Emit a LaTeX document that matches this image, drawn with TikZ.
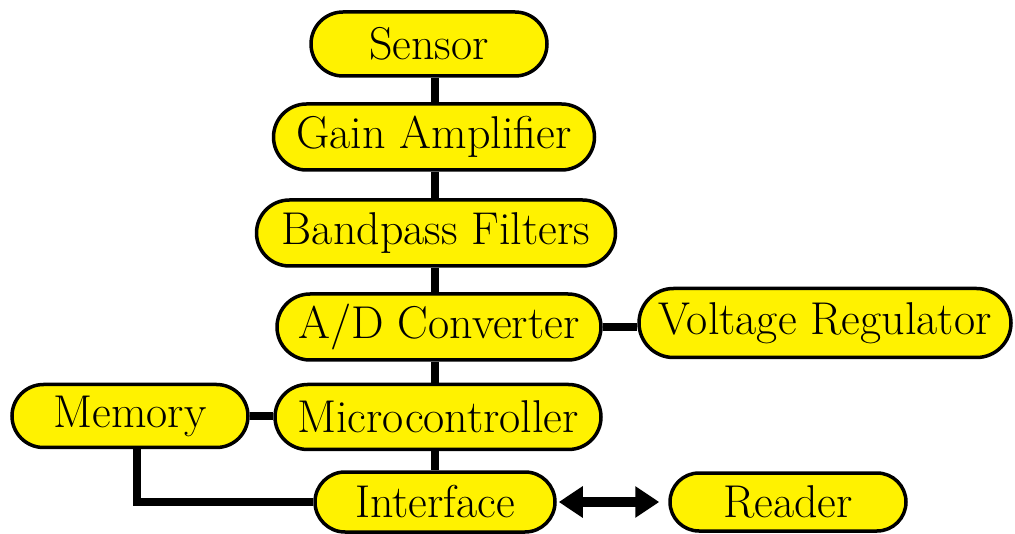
\documentclass[tikz,border=0pt]{standalone}
\usepackage{fontspec}
\usepackage{tikz}
\usetikzlibrary{arrows.meta,positioning}
\tikzset{font=\fontsize{46}{52}\selectfont}
\tikzset{every node/.append style={transform shape=false}}
\tikzset{unit/.style 2 args={draw, fill=yellow, line width=3.5pt, inner sep=0pt,
    minimum width=#1pt, minimum height=#2pt, rounded corners=#2pt/2}}
\tikzset{wire/.style={line width=8pt}}

\begin{document}
\begin{tikzpicture}[x=1pt,y=-1pt]
  \useasboundingbox (0,0) rectangle (1015,534);
  \coordinate (spine) at (435,0);
  \coordinate (drop) at (137,0);

  \node[unit={236}{64}] (sensor) at (429,44) {Sensor};
  \node[unit={321}{66}] (gain) at (434,137) {Gain Amplifier};
  \node[unit={359}{66}] (bandpass) at (436,233) {Bandpass Filters};
  \node[unit={324}{66}] (adc) at (439,327) {A/D Converter};
  \node[unit={372}{69}] (volt) at (825,323) {Voltage Regulator};
  \node[unit={326}{65}] (micro) at (438,417) {Microcontroller};
  \node[unit={236}{63}] (memory) at (130,416) {Memory};
  \node[unit={240}{60}] (iface) at (435,502) {Interface};
  \node[unit={236}{58}] (reader) at (788,502) {Reader};

  % main column
  \draw[wire] (sensor.south -| spine) -- (gain.north -| spine);
  \draw[wire] (gain.south -| spine) -- (bandpass.north -| spine);
  \draw[wire] (bandpass.south -| spine) -- (adc.north -| spine);
  \draw[wire] (adc.south -| spine) -- (micro.north -| spine);
  \draw[wire] (micro.south -| spine) -- (iface.north -| spine);

  % side branches
  \draw[wire] (adc.east) -- (adc.east -| volt.west);
  \draw[wire] (memory.east) -- (memory.east -| micro.west);
  \draw[wire] (memory.south -| drop) |- (iface.west);
%  \draw[wire] (micro.west) -- (memory.east);
  \draw[line width=10pt, shorten <=2pt, shorten >=9pt,
        {Triangle[length=24pt,width=30pt]}-{Triangle[length=24pt,width=30pt]}]
        (iface.east) -- (reader.west);
\end{tikzpicture}
\end{document}
